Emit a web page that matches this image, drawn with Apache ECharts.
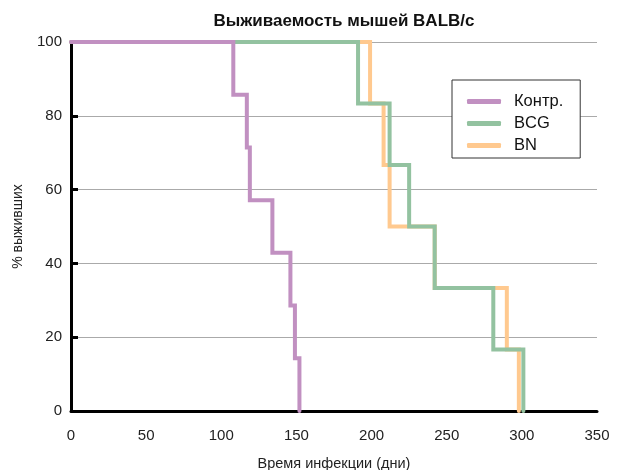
<!DOCTYPE html>
<html>
<head>
<meta charset="utf-8">
<script src="https://cdn.jsdelivr.net/npm/echarts@6/dist/echarts.min.js"></script>
<style>
  html, body { margin: 0; padding: 0; background: #fff; }
  #chart { width: 621px; height: 470px; }
</style>
</head>
<body>
<div id="chart"></div>
<script>
// Kaplan–Meier survival steps: day of each event and the % alive after it
const seriesNames = ['Контр.', 'BCG', 'BN'];
const controlDays = [0, 108, 117, 119, 134, 146, 149, 152];
const controlSurv = [100, 85.71, 71.43, 57.14, 42.86, 28.57, 14.29, 0];
const bcgDays = [0, 191, 212, 225, 242, 281, 301];
const bcgSurv = [100, 83.33, 66.67, 50, 33.33, 16.67, 0];
const bnDays = [0, 199, 208, 212, 242, 290, 298];
const bnSurv = [100, 83.33, 66.67, 50, 33.33, 16.67, 0];
const xTicks = [0, 50, 100, 150, 200, 250, 300, 350];
const yTicks = [0, 20, 40, 60, 80, 100];

const colors = { 'Контр.': '#c190c1', 'BCG': '#93c2a0', 'BN': '#ffc98f' };
const pairs = (xs, ys) => xs.map((x, i) => [x, ys[i]]);

const mkSeries = (name, data, z) => ({
  name, type: 'line', step: 'end', data, z,
  showSymbol: false, symbol: 'none',
  lineStyle: { color: colors[name], width: 4, cap: 'round', join: 'miter' },
  itemStyle: { color: colors[name] },
  emphasis: { disabled: true }
});

const chart = echarts.init(document.getElementById('chart'), null, { renderer: 'canvas' });
chart.setOption({
  animation: false,
  backgroundColor: '#fff',
  title: {
    text: 'Выживаемость мышей BALB/c',
    left: 339, top: 8, textAlign: 'center',
    textStyle: { fontFamily: 'Liberation Sans', fontSize: 17, fontWeight: 'bold', color: '#111' }
  },
  legend: {
    data: seriesNames,
    orient: 'vertical',
    left: 452, top: 80,
    padding: [13, 17, 4, 15],
    itemGap: 5,
    itemWidth: 34, itemHeight: 5,
    icon: 'roundRect',
    borderColor: '#333', borderWidth: 1,
    backgroundColor: '#fff',
    textStyle: { fontFamily: 'Liberation Sans', fontSize: 16.5, color: '#111', padding: [0, 0, 0, 8] }
  },
  grid: { left: 71, right: 24, top: 42, bottom: 59, containLabel: false, outerBoundsMode: 'none' },
  xAxis: {
    type: 'value', min: 0, max: 350, interval: 50,
    name: 'Время инфекции (дни)', nameLocation: 'middle', nameGap: 45,
    nameTextStyle: { fontFamily: 'Liberation Sans', fontSize: 14.5, color: '#222' },
    axisLine: { show: true, onZero: false, lineStyle: { color: '#000', width: 3 } },
    axisTick: { show: false },
    axisLabel: {
      fontFamily: 'Liberation Sans', fontSize: 15, color: '#222', margin: 17,
      formatter: v => xTicks.includes(v) ? String(v) : ''
    },
    splitLine: { show: false }
  },
  yAxis: {
    type: 'value', min: 0, max: 100, interval: 20,
    name: '% выживших', nameLocation: 'middle', nameGap: 46, nameRotate: 90,
    nameTextStyle: { fontFamily: 'Liberation Sans', fontSize: 14, color: '#222' },
    axisLine: { show: true, lineStyle: { color: '#000', width: 3 } },
    axisTick: { show: true, inside: true, length: 7, lineStyle: { color: '#000', width: 3 } },
    axisLabel: {
      fontFamily: 'Liberation Sans', fontSize: 15, color: '#222', margin: 9,
      formatter: v => yTicks.includes(v) ? String(v) : ''
    },
    splitLine: { show: true, lineStyle: { color: '#aaa', width: 1 } }
  },
  series: [
    mkSeries('BN', pairs(bnDays, bnSurv), 2),
    mkSeries('BCG', pairs(bcgDays, bcgSurv), 3),
    mkSeries('Контр.', pairs(controlDays, controlSurv), 4)
  ]
});
</script>
</body>
</html>
